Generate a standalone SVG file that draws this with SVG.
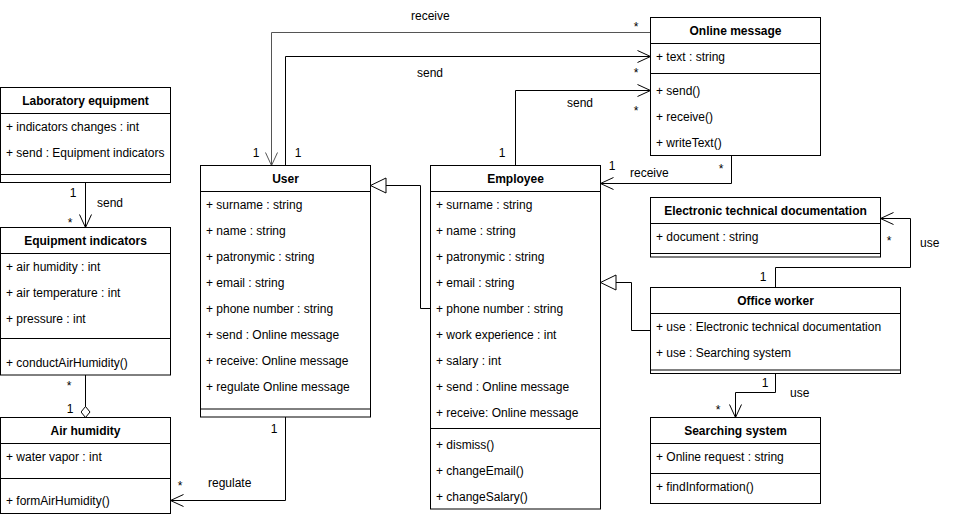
<svg xmlns="http://www.w3.org/2000/svg" width="962" height="517" viewBox="0 0 962 517">
<defs>
<style>
text{font-family:"Liberation Sans",Arial,sans-serif;font-size:12px;fill:#000}
.t{font-weight:bold;text-anchor:middle}
.c{text-anchor:middle}
.box{fill:#fff;stroke:#000;stroke-width:1}
.ln{stroke:#000;stroke-width:1;fill:none}
.e{fill:none;stroke:#000;stroke-width:1}
.g{fill:none;stroke:#555;stroke-width:1}
</style>
<marker id="open" markerUnits="userSpaceOnUse" markerWidth="16" markerHeight="14" refX="14" refY="7" orient="auto"><path d="M1,1 L14,7 L1,13" fill="none" stroke="#000"/></marker>
<marker id="openg" markerUnits="userSpaceOnUse" markerWidth="16" markerHeight="14" refX="14" refY="7" orient="auto"><path d="M1,1 L14,7 L1,13" fill="none" stroke="#555"/></marker>
<marker id="tri" markerUnits="userSpaceOnUse" markerWidth="18" markerHeight="18" refX="16.5" refY="8.5" orient="auto"><path d="M1,1 L16.5,8.5 L1,16 Z" fill="#fff" stroke="#000"/></marker>
<marker id="dia" markerUnits="userSpaceOnUse" markerWidth="13" markerHeight="11" refX="0.5" refY="5" orient="auto"><path d="M0.5,5 L6,0.5 L11.5,5 L6,9.5 Z" fill="#fff" stroke="#000"/></marker>
</defs>
<rect width="962" height="517" fill="#fff"/>

<g id="connectors">
<path class="e" d="M85.5,182.5 V227.5" marker-end="url(#open)"/>
<path class="e" d="M85.5,417.5 V375" marker-start="url(#dia)"/>
<path class="g" d="M650.5,32.5 H271.5 V165.5" marker-end="url(#openg)"/>
<path class="e" d="M285.5,165.5 V56.5 H650.5" marker-end="url(#open)"/>
<path class="e" d="M515.5,165.5 V90.5 H650.5" marker-end="url(#open)"/>
<path class="e" d="M731.5,155.5 V183.5 H600.5" marker-end="url(#open)"/>
<path class="e" d="M430.5,308.5 H420.5 V185.5 H370.5" marker-end="url(#tri)"/>
<path class="e" d="M650.5,330.5 H631.5 V282.5 H600.5" marker-end="url(#tri)"/>
<path class="e" d="M775.5,287.5 V267.5 H910.5 V218.5 H880.5" marker-end="url(#open)"/>
<path class="e" d="M775.5,373.5 V392.5 H735.5 V417.5" marker-end="url(#open)"/>
<path class="e" d="M285.5,417 V500.5 H170.5" marker-end="url(#open)"/>
<text class="c" x="73" y="197">1</text>
<text x="97" y="207">send</text>
<text class="c" x="70" y="227">*</text>
<text class="c" x="69" y="390">*</text>
<text class="c" x="70" y="413">1</text>
<text x="411" y="20">receive</text>
<text class="c" x="636" y="31">*</text>
<text class="c" x="256" y="157">1</text>
<text class="c" x="298" y="157">1</text>
<text x="417" y="77">send</text>
<text class="c" x="636" y="77">*</text>
<text class="c" x="502" y="157">1</text>
<text x="567" y="107">send</text>
<text class="c" x="636" y="115">*</text>
<text class="c" x="612" y="170">1</text>
<text x="630" y="177">receive</text>
<text class="c" x="721" y="173">*</text>
<text class="c" x="763" y="281">1</text>
<text class="c" x="889" y="245">*</text>
<text x="920" y="247">use</text>
<text class="c" x="765" y="387">1</text>
<text x="790" y="397">use</text>
<text class="c" x="718" y="414">*</text>
<text class="c" x="274" y="433">1</text>
<text x="208" y="487">regulate</text>
<text class="c" x="180" y="490">*</text>
</g>

<g id="laboratory-equipment">
<rect class="box" x="0.5" y="87.5" width="170" height="95"/>
<path class="ln" d="M0.5,113.5 H170.5 M0.5,174.5 H170.5"/>
<text class="t" x="85.5" y="105">Laboratory equipment</text>
<text x="6" y="131">+ indicators changes : int</text>
<text x="6" y="157">+ send : Equipment indicators</text>
</g>

<g id="equipment-indicators">
<rect class="box" x="0.5" y="227.5" width="170" height="147.5"/>
<path class="ln" d="M0.5,253.5 H170.5 M0.5,338.5 H170.5"/>
<text class="t" x="85.5" y="245">Equipment indicators</text>
<text x="6" y="271">+ air humidity : int</text>
<text x="6" y="297">+ air temperature : int</text>
<text x="6" y="323">+ pressure : int</text>
<text x="6" y="367">+ conductAirHumidity()</text>
</g>

<g id="air-humidity">
<rect class="box" x="0.5" y="417.5" width="170" height="96"/>
<path class="ln" d="M0.5,443.5 H170.5 M0.5,478.5 H170.5"/>
<text class="t" x="85.5" y="435">Air humidity</text>
<text x="6" y="461">+ water vapor : int</text>
<text x="6" y="505">+ formAirHumidity()</text>
</g>

<g id="user">
<rect class="box" x="200.5" y="165.5" width="170" height="251.5"/>
<path class="ln" d="M200.5,191.5 H370.5 M200.5,409 H370.5"/>
<text class="t" x="285.5" y="183">User</text>
<text x="206" y="209">+ surname : string</text>
<text x="206" y="235">+ name : string</text>
<text x="206" y="261">+ patronymic : string</text>
<text x="206" y="287">+ email : string</text>
<text x="206" y="313">+ phone number : string</text>
<text x="206" y="339">+ send : Online message</text>
<text x="206" y="365">+ receive: Online message</text>
<text x="206" y="391">+ regulate Online message</text>
</g>

<g id="employee">
<rect class="box" x="430.5" y="165.5" width="170" height="343.5"/>
<path class="ln" d="M430.5,191.5 H600.5 M430.5,428.5 H600.5"/>
<text class="t" x="515.5" y="183">Employee</text>
<text x="436" y="209">+ surname : string</text>
<text x="436" y="235">+ name : string</text>
<text x="436" y="261">+ patronymic : string</text>
<text x="436" y="287">+ email : string</text>
<text x="436" y="313">+ phone number : string</text>
<text x="436" y="339">+ work experience : int</text>
<text x="436" y="365">+ salary : int</text>
<text x="436" y="391">+ send : Online message</text>
<text x="436" y="417">+ receive: Online message</text>
<text x="436" y="449">+ dismiss()</text>
<text x="436" y="475">+ changeEmail()</text>
<text x="436" y="501">+ changeSalary()</text>
</g>

<g id="online-message">
<rect class="box" x="650.5" y="17.5" width="170" height="138"/>
<path class="ln" d="M650.5,43.5 H820.5 M650.5,73.5 H820.5"/>
<text class="t" x="735.5" y="35">Online message</text>
<text x="656" y="61">+ text : string</text>
<text x="656" y="95">+ send()</text>
<text x="656" y="121">+ receive()</text>
<text x="656" y="147">+ writeText()</text>
</g>

<g id="electronic-technical-documentation">
<rect class="box" x="650.5" y="197.5" width="230" height="59.5"/>
<path class="ln" d="M650.5,223.5 H880.5 M650.5,253.5 H880.5"/>
<text class="t" x="765.5" y="215">Electronic technical documentation</text>
<text x="656" y="241">+ document : string</text>
</g>

<g id="office-worker">
<rect class="box" x="650.5" y="287.5" width="250" height="86"/>
<path class="ln" d="M650.5,313.5 H900.5 M650.5,370 H900.5"/>
<text class="t" x="775.5" y="305">Office worker</text>
<text x="656" y="331">+ use : Electronic technical documentation</text>
<text x="656" y="357">+ use : Searching system</text>
</g>

<g id="searching-system">
<rect class="box" x="650.5" y="417.5" width="170" height="86"/>
<path class="ln" d="M650.5,443.5 H820.5 M650.5,473.5 H820.5"/>
<text class="t" x="735.5" y="435">Searching system</text>
<text x="656" y="461">+ Online request : string</text>
<text x="656" y="491">+ findInformation()</text>
</g>
</svg>
